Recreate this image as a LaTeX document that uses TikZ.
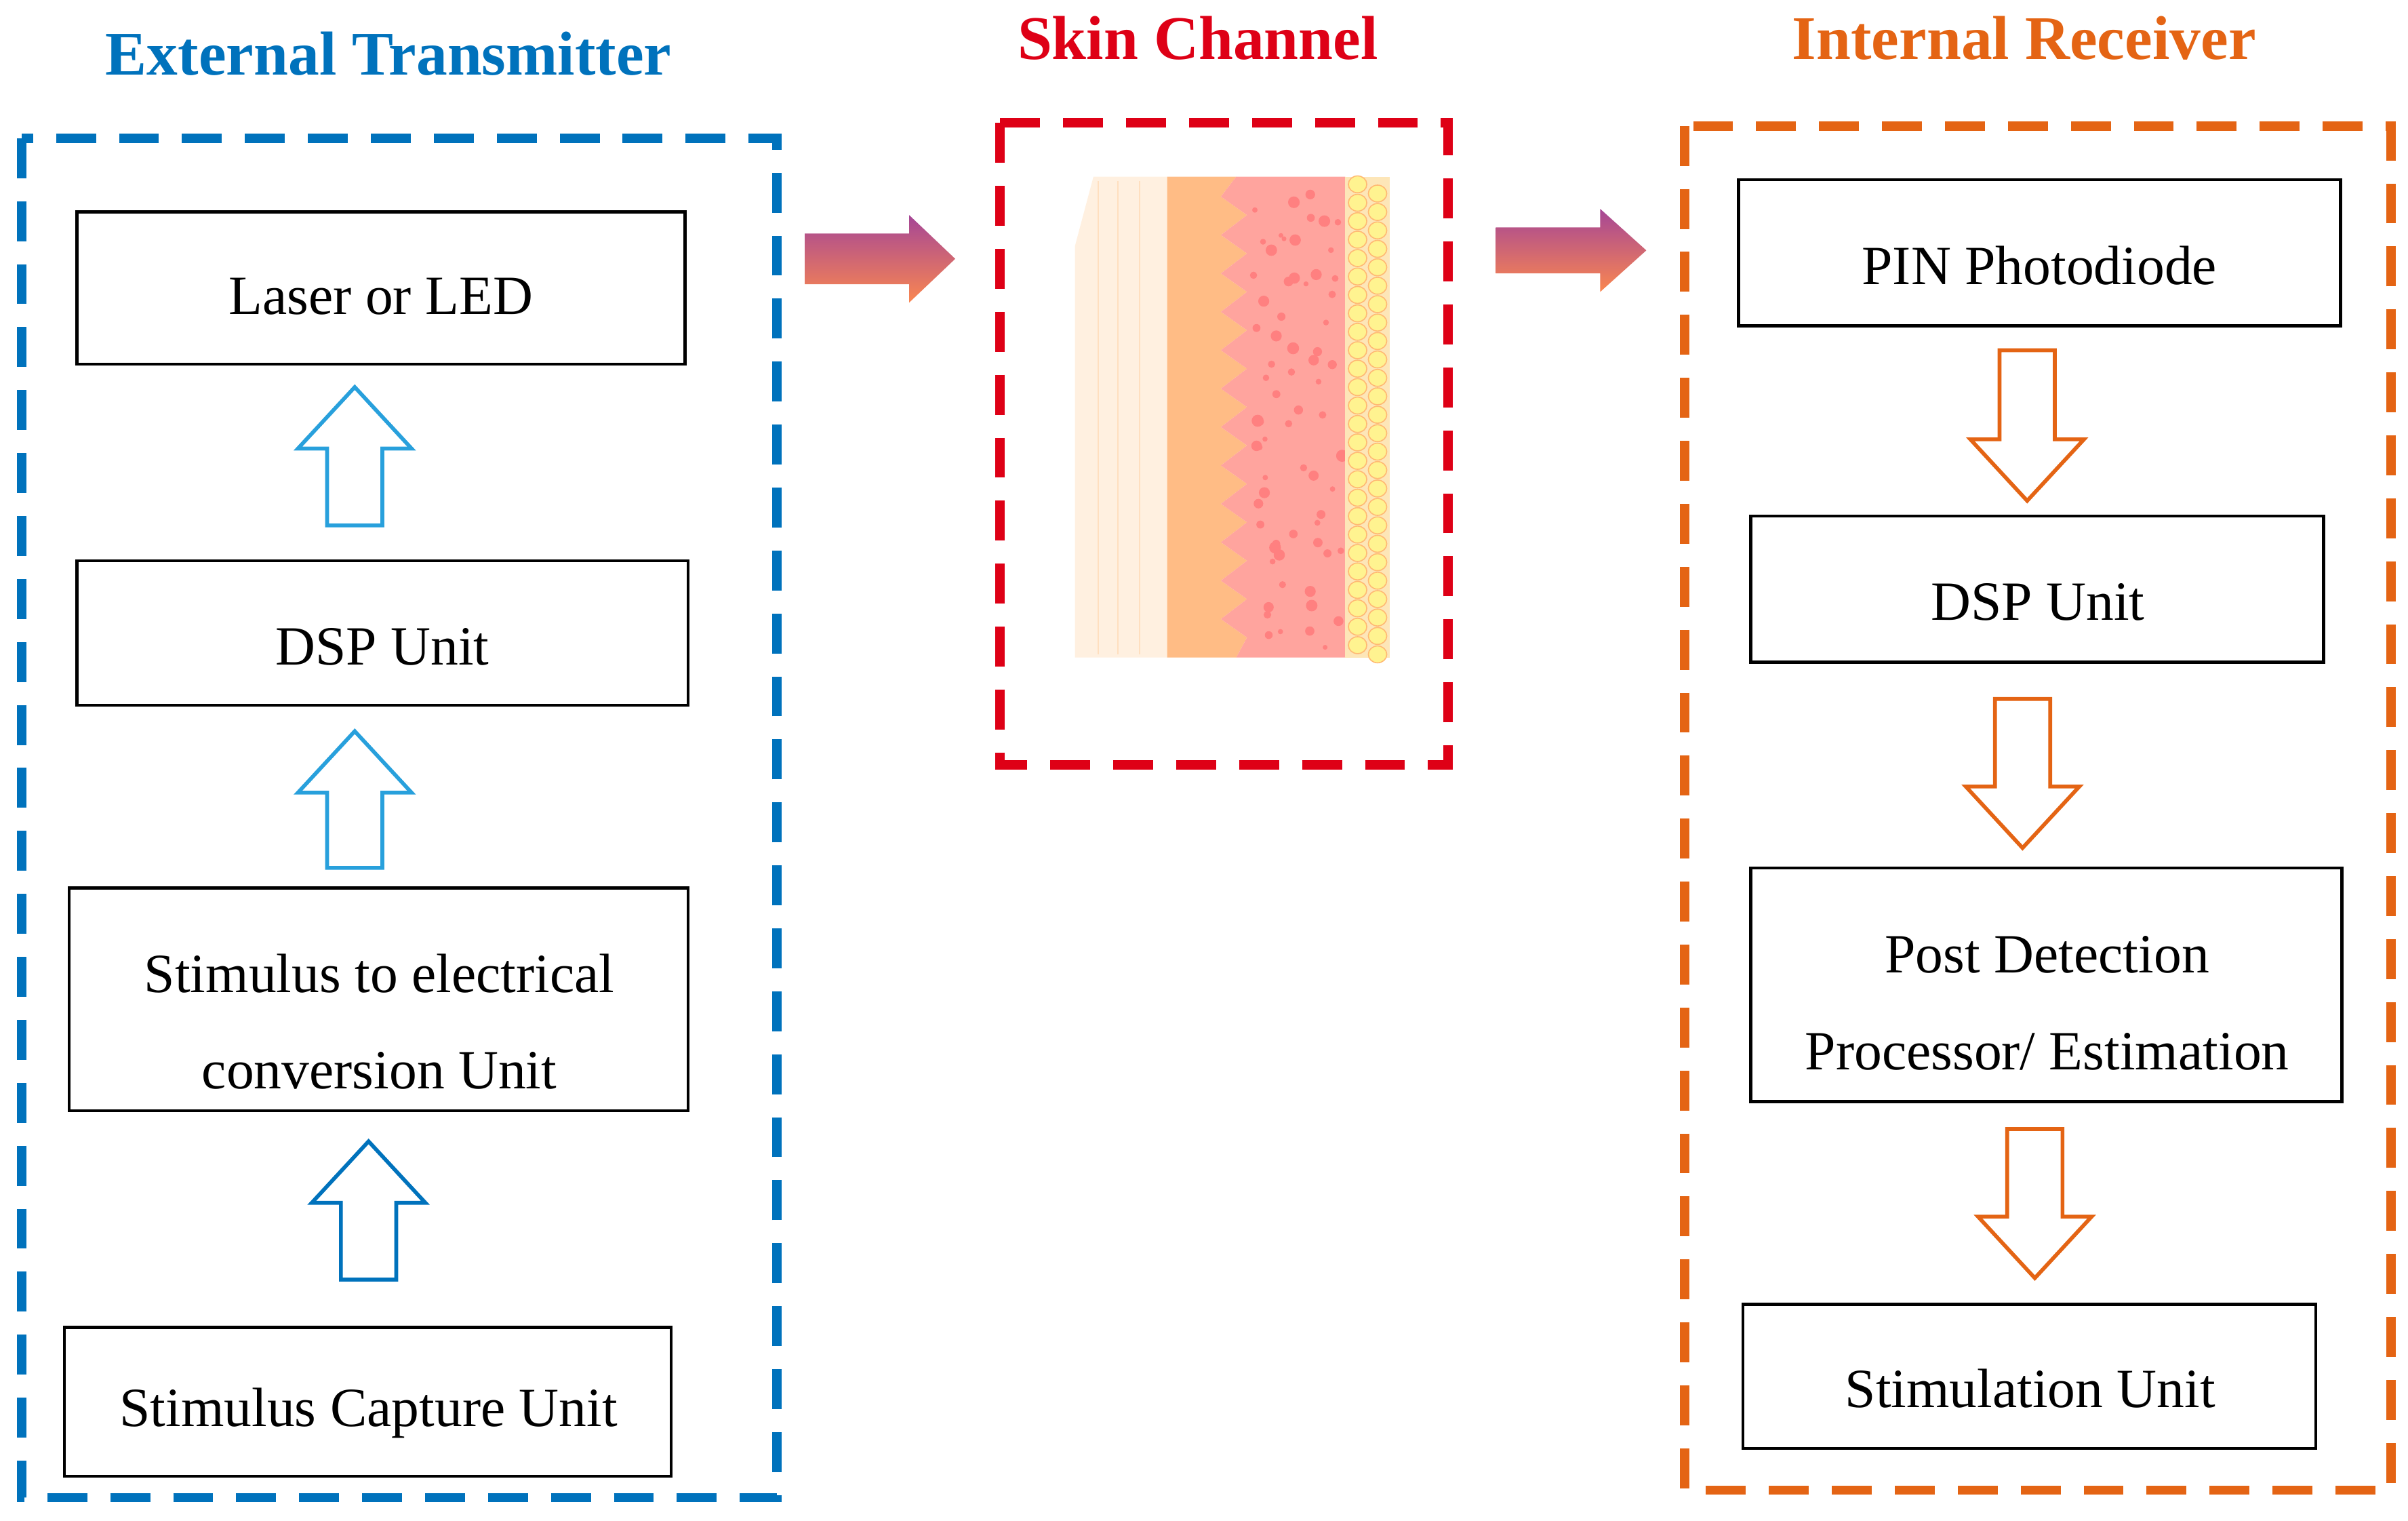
\documentclass[tikz,border=0pt]{standalone}
\usepackage{fontspec}
\setmainfont{Liberation Serif}
\definecolor{tblue}{RGB}{0,114,188}
\definecolor{lblue}{RGB}{40,160,220}
\definecolor{tred}{RGB}{222,0,22}
\definecolor{torange}{RGB}{228,100,20}
\definecolor{gpurp}{RGB}{165,70,150}
\definecolor{gorng}{RGB}{250,135,80}
\newcommand\myblkarrow[5]{% x, tip y, tail y, color, sign(+1 up,-1 down)
  \draw[#4,line width=0.05cm,fill=white,line join=miter]
   (#1-18,#3) -- (#1-18,#2+#5*40) -- (#1-37,#2+#5*40) -- (#1,#2) -- (#1+37,#2+#5*40) -- (#1+18,#2+#5*40) -- (#1+18,#3) -- cycle;}
\newcommand\mygradarrow[4]{% x1,y1(top),x2,y2(bottom)
  \shade[top color=gpurp,bottom color=gorng]
   (#1,{#2+12}) -- ({#3-30},{#2+12}) -- ({#3-30},#2) -- (#3,{(#2+#4)/2}) -- ({#3-30},#4) -- ({#3-30},{#4-12}) -- (#1,{#4-12}) -- cycle;}
\begin{document}
\begin{tikzpicture}[x=0.02cm,y=-0.02cm,
  box/.style={draw,line width=0.04cm,inner sep=0},
  txt/.style={font=\fontsize{20.5}{35.8}\selectfont,align=center},
  ttl/.style={font=\fontsize{23}{26}\selectfont\bfseries},
  dbox/.style={line width=0.12cm,dash pattern=on 0.52cm off 0.3cm}]
\useasboundingbox (0,0) rectangle (1568,990);
% titles
\node[ttl,text=tblue] (t1) at (253,35) {External Transmitter};
\node[ttl,text=tred] (t2) at (780,25) {Skin Channel};
\node[ttl,text=torange] (t3) at (1318,25) {Internal Receiver};
% dashed frames
\draw[dbox,tblue] (14,90) rectangle (506,975);
\draw[dbox,tred] (651,80) rectangle (943,498);
\draw[dbox,torange] (1097,82) rectangle (1557,970);
% left boxes
\draw[box] (50,138) rectangle (446,237); \node[txt] (a1) at (248,193) {Laser or LED};
\draw[box] (50,365) rectangle (448,459); \node[txt] (a2) at (249,421) {DSP Unit};
\draw[box] (45,578) rectangle (448,723); \node[txt] (a3) at (247,665) {Stimulus to electrical\\conversion Unit};
\draw[box] (42,864) rectangle (437,961); \node[txt] (a4) at (240,920) {Stimulus Capture Unit};
\myblkarrow{231}{252}{342}{lblue}{1}
\myblkarrow{231}{476}{565}{lblue}{1}
\myblkarrow{240}{743}{833}{tblue}{1}
% right boxes
\draw[box] (1132,117) rectangle (1524,212); \node[txt] (b1) at (1328,173) {PIN Photodiode};
\draw[box] (1140,336) rectangle (1513,431); \node[txt] (b2) at (1327,392) {DSP Unit};
\draw[box] (1140,565) rectangle (1525,717); \node[txt] (b3) at (1333,653) {Post Detection\\Processor/ Estimation};
\draw[box] (1135,849) rectangle (1508,943); \node[txt] (b4) at (1322,904) {Stimulation Unit};
\myblkarrow{1320}{326}{228}{torange}{-1}
\myblkarrow{1317}{552}{455}{torange}{-1}
\myblkarrow{1325}{832}{735}{torange}{-1}
% gradient arrows
\mygradarrow{524}{140}{622}{197}
\mygradarrow{974}{136}{1072}{190}
% skin
\fill[orange!12!white] (712,115) -- (760,115) -- (760,428) -- (700,428) -- (700,160) -- cycle;
\foreach \x in {715,728,742} \draw[orange!25!white,line width=0.02cm] (\x,118) -- (\x,426);
\fill[orange!45!white!95!red] (760,115) -- (805,115)
  \foreach \i in {0,...,11} { -- (795,{128+\i*25}) -- (812,{140+\i*25}) } -- (805,428) -- (760,428) -- cycle;
\fill[red!35!white!95!orange] (805,115)
  \foreach \i in {0,...,11} { -- (795,{128+\i*25}) -- (812,{140+\i*25}) } -- (805,428) -- (876,428) -- (876,115) -- cycle;
\pgfmathsetseed{7}
\foreach \i in {1,...,70} {\pgfmathsetmacro\rx{816+58*rnd}\pgfmathsetmacro\ry{122+300*rnd}\pgfmathsetmacro\rr{1.5+2.5*rnd}
  \fill[red!50!white] (\rx,\ry) circle (\rr);}
\fill[yellow!30!orange!25!white] (876,115) rectangle (905,428);
\foreach \j in {0,...,25} {
  \draw[orange!55!white,fill=yellow!40!white!95!orange] (884,{120+\j*12}) ellipse (6 and 5.5);
  \draw[orange!55!white,fill=yellow!40!white!95!orange] (897,{126+\j*12}) ellipse (6 and 5.5);}
\end{tikzpicture}
\end{document}
